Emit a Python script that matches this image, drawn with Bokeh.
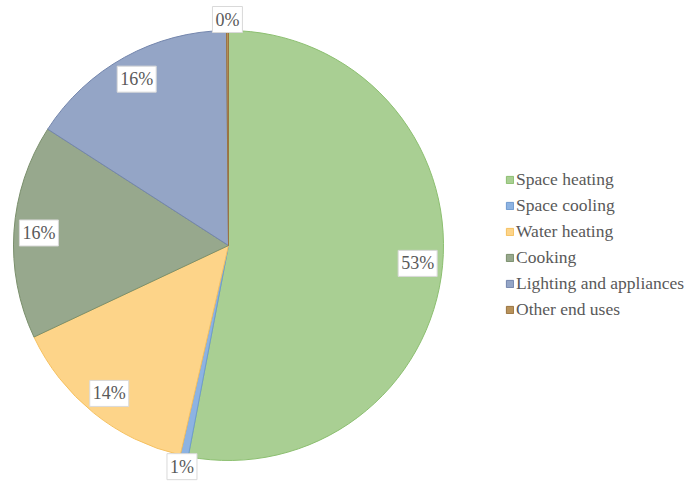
import math
from bokeh.plotting import figure
from bokeh.models import ColumnDataSource, Range1d, Legend, LegendItem
from bokeh.core.properties import value
from bokeh.embed import file_html
from bokeh.resources import INLINE

categories = ["Space heating", "Space cooling", "Water heating", "Cooking",
              "Lighting and appliances", "Other end uses"]
shares = [53.0, 0.6, 14.4, 16.1, 15.75, 0.15]
labels = ["53%", "1%", "14%", "16%", "16%", "0%"]
fill_colors = ["#a9cf93", "#8db3e2", "#fdd489", "#97a88d", "#94a5c6", "#b8925a"]
line_colors = ["#8cbf70", "#6f9bd0", "#f5c060", "#7a8f6c", "#7486ad", "#9a7440"]

W, H = 688, 484
cx, cy, r = 228, 239, 215
FONT = "Liberation Serif"

total = sum(shares)
starts, ends, lx, ly = [], [], [], []
cum = 0.0
for s in shares:
    a0 = math.pi / 2 - 2 * math.pi * cum / total
    cum += s
    a1 = math.pi / 2 - 2 * math.pi * cum / total
    starts.append(a0)
    ends.append(a1)
    mid = (a0 + a1) / 2
    lr = 190 if s >= 2 else 226
    lx.append(cx + lr * math.cos(mid))
    ly.append(cy + lr * math.sin(mid))

src = ColumnDataSource(dict(lx=lx, ly=ly, lab=labels))

p = figure(width=W, height=H, output_backend="svg", toolbar_location=None,
           x_range=Range1d(0, W), y_range=Range1d(0, H), min_border=0)
p.axis.visible = False
p.grid.visible = False
p.outline_line_color = None
p.background_fill_color = "white"

renderers = []
for i, c in enumerate(categories):
    rr = p.wedge(x=cx, y=cy, radius=r, start_angle=starts[i], end_angle=ends[i],
                 direction="clock", fill_color=fill_colors[i], line_color=line_colors[i],
                 line_width=1)
    renderers.append(rr)

p.text(x="lx", y="ly", text="lab", source=src, text_align="center",
       text_baseline="middle", text_font=value(FONT),
       text_font_size="18px", text_color="#595959",
       background_fill_color="white", border_line_color="#d9d9d9",
       padding=3)

legend = Legend(items=[LegendItem(label=c, renderers=[renderers[i]]) for i, c in enumerate(categories)],
                location=(505, 164), orientation="vertical")
legend.label_text_font = FONT
legend.label_text_font_size = "17.5px"
legend.label_text_color = "#595959"
legend.glyph_width = 9
legend.glyph_height = 9
legend.label_standoff = 2
legend.label_height = 20
legend.spacing = 5
legend.padding = 0
legend.margin = 0
legend.border_line_color = None
legend.background_fill_alpha = 0
p.add_layout(legend)

open("out.html", "w").write(file_html(p, INLINE))
